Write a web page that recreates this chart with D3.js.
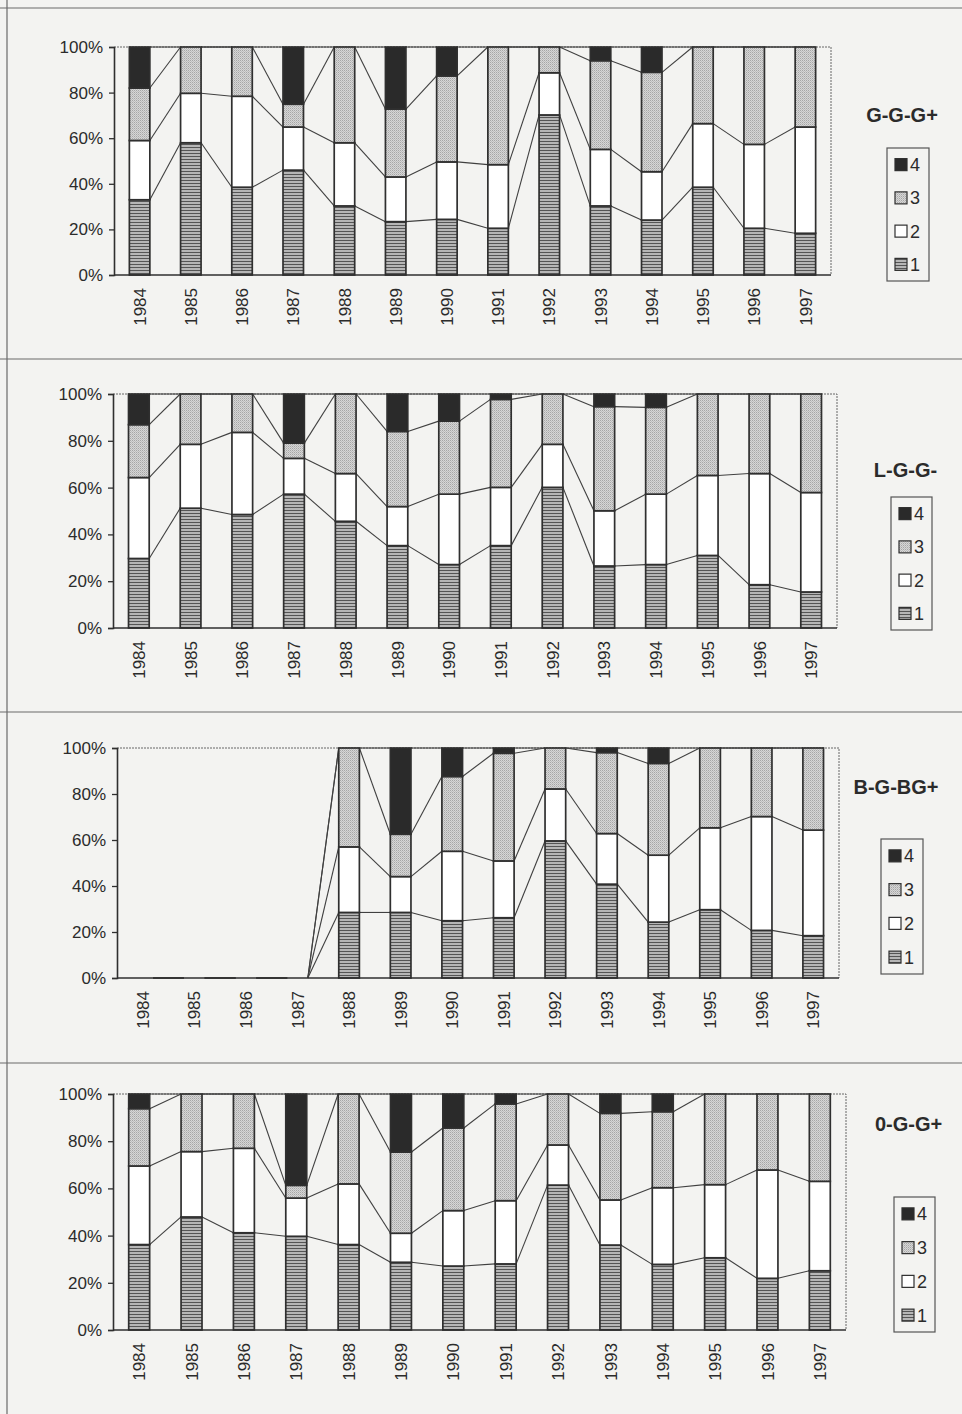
<!DOCTYPE html>
<html>
<head>
<meta charset="utf-8">
<script src="https://cdn.jsdelivr.net/npm/d3@7"></script>
<style>
  html, body { margin: 0; padding: 0; background: #f3f3f1; }
  svg { display: block; }
  text { font-family: "Liberation Sans", Arial, sans-serif; fill: #2b2b2b; }
</style>
</head>
<body>
<svg id="chart" width="962" height="1414"></svg>
<script>
// Years on the category axis
const years = ["1984","1985","1986","1987","1988","1989","1990","1991","1992","1993","1994","1995","1996","1997"];
// Stack classes, bottom to top
const classes = ["1","2","3","4"];
const yTicks = [0, 20, 40, 60, 80, 100];

// Variant titles
const variants = ["G-G-G+", "L-G-G-", "B-G-BG+", "0-G-G+"];

// Share (%) of each class per year, variant G-G-G+
const gggC1 = [33, 58, 38.5, 46, 30.3, 23.4, 24.4, 20.5, 70.2, 30.3, 24.1, 38.5, 20.5, 18.3];
const gggC2 = [26, 21.7, 39.9, 18.9, 27.7, 19.6, 25.2, 27.9, 18.5, 24.8, 21.2, 27.9, 36.8, 46.6];
const gggC3 = [23, 20.3, 21.6, 10, 42, 29.8, 37.7, 51.6, 11.3, 38.9, 43.6, 33.6, 42.7, 35.1];
const gggC4 = [18, 0, 0, 25.1, 0, 27.2, 12.7, 0, 0, 6, 11.1, 0, 0, 0];

// Variant L-G-G-
const lggC1 = [29.7, 51.2, 48.5, 57.2, 45.6, 35.2, 27.1, 35.2, 60.1, 26.5, 27.1, 31.0, 18.5, 15.4];
const lggC2 = [34.6, 27.3, 35.1, 15.3, 20.4, 16.7, 30.1, 24.9, 18.4, 23.6, 30.1, 34.2, 47.5, 42.5];
const lggC3 = [22.6, 21.5, 16.4, 6.5, 34, 32.1, 31.2, 37.6, 21.5, 44.5, 37.1, 34.8, 34, 42.1];
const lggC4 = [13.1, 0, 0, 21, 0, 16, 11.6, 2.3, 0, 5.4, 5.7, 0, 0, 0];

// Variant B-G-BG+ (no records before 1988)
const bgbC1 = [0, 0, 0, 0, 28.5, 28.5, 24.9, 26.2, 59.6, 40.8, 24.3, 29.7, 20.7, 18.4];
const bgbC2 = [0, 0, 0, 0, 28.5, 15.6, 30.2, 24.7, 22.6, 22, 29.1, 35.6, 49.5, 45.9];
const bgbC3 = [0, 0, 0, 0, 43, 18.4, 32.5, 46.8, 17.8, 35.2, 39.9, 34.7, 29.8, 35.7];
const bgbC4 = [0, 0, 0, 0, 0, 37.5, 12.4, 2.3, 0, 2, 6.7, 0, 0, 0];

// Variant 0-G-G+
const oggC1 = [36.2, 47.9, 41.2, 39.7, 36.2, 28.7, 27.1, 28, 61.4, 36, 27.8, 30.6, 21.9, 25.1];
const oggC2 = [33.3, 27.7, 35.8, 16.2, 25.7, 12.3, 23.5, 26.8, 17, 19.1, 32.5, 31, 45.9, 37.9];
const oggC3 = [24.3, 24.4, 23, 5.4, 38.1, 34.4, 35, 41, 21.6, 36.7, 32.2, 38.4, 32.2, 37];
const oggC4 = [6.2, 0, 0, 38.7, 0, 24.6, 14.4, 4.2, 0, 8.2, 7.5, 0, 0, 0];

const seriesByVariant = [
  [gggC1, gggC2, gggC3, gggC4],
  [lggC1, lggC2, lggC3, lggC4],
  [bgbC1, bgbC2, bgbC3, bgbC4],
  [oggC1, oggC2, oggC3, oggC4]
];

// Panel geometry (plot box + legend box)
const panels = [
  { left: 114, right: 831, top: 47,   bottom: 275,  titleY: 115,  lg: { x: 887, y: 148,  w: 42, h: 133 } },
  { left: 113, right: 837, top: 394,  bottom: 628,  titleY: 470,  lg: { x: 891, y: 497,  w: 41, h: 133 } },
  { left: 117, right: 839, top: 748,  bottom: 978,  titleY: 787,  lg: { x: 881, y: 839,  w: 42, h: 135 } },
  { left: 113, right: 846, top: 1094, bottom: 1330, titleY: 1124, lg: { x: 894, y: 1197, w: 41, h: 135 } }
];
const separators = [8, 359, 712, 1063];

const svg = d3.select("#chart");
const defs = svg.append("defs");

// Class 1: fine horizontal hatching
const p1 = defs.append("pattern").attr("id", "hatch1")
  .attr("patternUnits", "userSpaceOnUse").attr("width", 4).attr("height", 3);
p1.append("rect").attr("width", 4).attr("height", 3).attr("fill", "#b6b6b6");
p1.append("rect").attr("width", 4).attr("height", 1).attr("fill", "#555555");

// Class 3: light stippled grey
const p3 = defs.append("pattern").attr("id", "dots3")
  .attr("patternUnits", "userSpaceOnUse").attr("width", 2).attr("height", 2);
p3.append("rect").attr("width", 2).attr("height", 2).attr("fill", "#d6d6d6");
p3.append("rect").attr("width", 1).attr("height", 1).attr("fill", "#a6a6a6");
p3.append("rect").attr("x", 1).attr("y", 1).attr("width", 1).attr("height", 1).attr("fill", "#bdbdbd");

const fills = { "1": "url(#hatch1)", "2": "#ffffff", "3": "url(#dots3)", "4": "#2a2a2a" };
const ink = "#2f2f2f";

// Page frame lines
svg.append("line").attr("x1", 7).attr("x2", 7).attr("y1", 0).attr("y2", 1414)
  .attr("stroke", "#6a6a6a").attr("stroke-width", 1.2);
separators.forEach(y => {
  svg.append("line").attr("x1", 0).attr("x2", 962).attr("y1", y).attr("y2", y)
    .attr("stroke", "#6a6a6a").attr("stroke-width", 1.2);
});

panels.forEach((pn, pi) => {
  const cols = seriesByVariant[pi];
  const rows = years.map((yr, i) => {
    const r = { year: yr };
    classes.forEach((c, k) => { r[c] = cols[k][i]; });
    return r;
  });
  const stacked = d3.stack().keys(classes)(rows);

  const x = d3.scaleBand().domain(years).range([pn.left, pn.right]).paddingInner(0.6).paddingOuter(0.3);
  const y = d3.scaleLinear().domain([0, 100]).range([pn.bottom, pn.top]);

  const g = svg.append("g");

  // Plot area border (top and right)
  g.append("path")
    .attr("d", `M${pn.left},${pn.top}H${pn.right}V${pn.bottom}`)
    .attr("fill", "none").attr("stroke", "#666").attr("stroke-width", 1)
    .attr("stroke-dasharray", "2,1");

  // Series lines joining the top of each class between neighbouring bars
  stacked.forEach(s => {
    for (let i = 0; i < years.length - 1; i++) {
      g.append("line")
        .attr("x1", x(years[i]) + x.bandwidth()).attr("y1", y(s[i][1]))
        .attr("x2", x(years[i + 1])).attr("y2", y(s[i + 1][1]))
        .attr("stroke", "#404040").attr("stroke-width", 1.1);
    }
  });

  // Bars
  stacked.forEach(s => {
    g.append("g").selectAll("rect")
      .data(s.filter(d => d[1] - d[0] > 0))
      .join("rect")
      .attr("x", d => x(d.data.year))
      .attr("width", x.bandwidth())
      .attr("y", d => y(d[1]))
      .attr("height", d => y(d[0]) - y(d[1]))
      .attr("fill", fills[s.key])
      .attr("stroke", ink).attr("stroke-width", 1.7);
  });

  // Y axis
  const yAxis = g.append("g").attr("transform", `translate(${pn.left},0)`)
    .call(d3.axisLeft(y).tickValues(yTicks).tickFormat(d => d + "%").tickSize(5).tickPadding(6));
  yAxis.select(".domain").attr("stroke", ink).attr("stroke-width", 1.6);
  yAxis.selectAll(".tick line").attr("stroke", ink).attr("stroke-width", 1.3);
  yAxis.selectAll("text").style("font-size", "17px").attr("fill", "#2b2b2b")
    .style("font-family", '"Liberation Sans", Arial, sans-serif');

  // X axis line
  g.append("line").attr("x1", pn.left).attr("x2", pn.right)
    .attr("y1", pn.bottom).attr("y2", pn.bottom)
    .attr("stroke", ink).attr("stroke-width", 1.6);

  // Year labels, rotated
  g.append("g").selectAll("text").data(years).join("text")
    .attr("transform", d => `translate(${x(d) + x.bandwidth() / 2},${pn.bottom + 13}) rotate(-90)`)
    .attr("text-anchor", "end").attr("dy", "0.36em")
    .style("font-size", "17px")
    .text(d => d);

  // Variant title
  g.append("text")
    .attr("x", pn.lg.x + pn.lg.w / 2 - 6).attr("y", pn.titleY)
    .attr("text-anchor", "middle").attr("dy", "0.36em")
    .style("font-size", "20px").style("font-weight", "bold")
    .text(variants[pi]);

  // Legend
  const lg = g.append("g").attr("transform", `translate(${pn.lg.x},${pn.lg.y})`);
  lg.append("rect").attr("width", pn.lg.w).attr("height", pn.lg.h)
    .attr("fill", "none").attr("stroke", "#555").attr("stroke-width", 1.2);
  const step = pn.lg.h / 4;
  classes.slice().reverse().forEach((c, k) => {
    const cy = step * (k + 0.5);
    lg.append("rect").attr("x", 8).attr("y", cy - 6).attr("width", 12).attr("height", 12)
      .attr("fill", fills[c]).attr("stroke", ink).attr("stroke-width", 1.2);
    lg.append("text").attr("x", 23).attr("y", cy).attr("dy", "0.36em")
      .style("font-size", "18px").text(c);
  });
});
</script>
</body>
</html>
